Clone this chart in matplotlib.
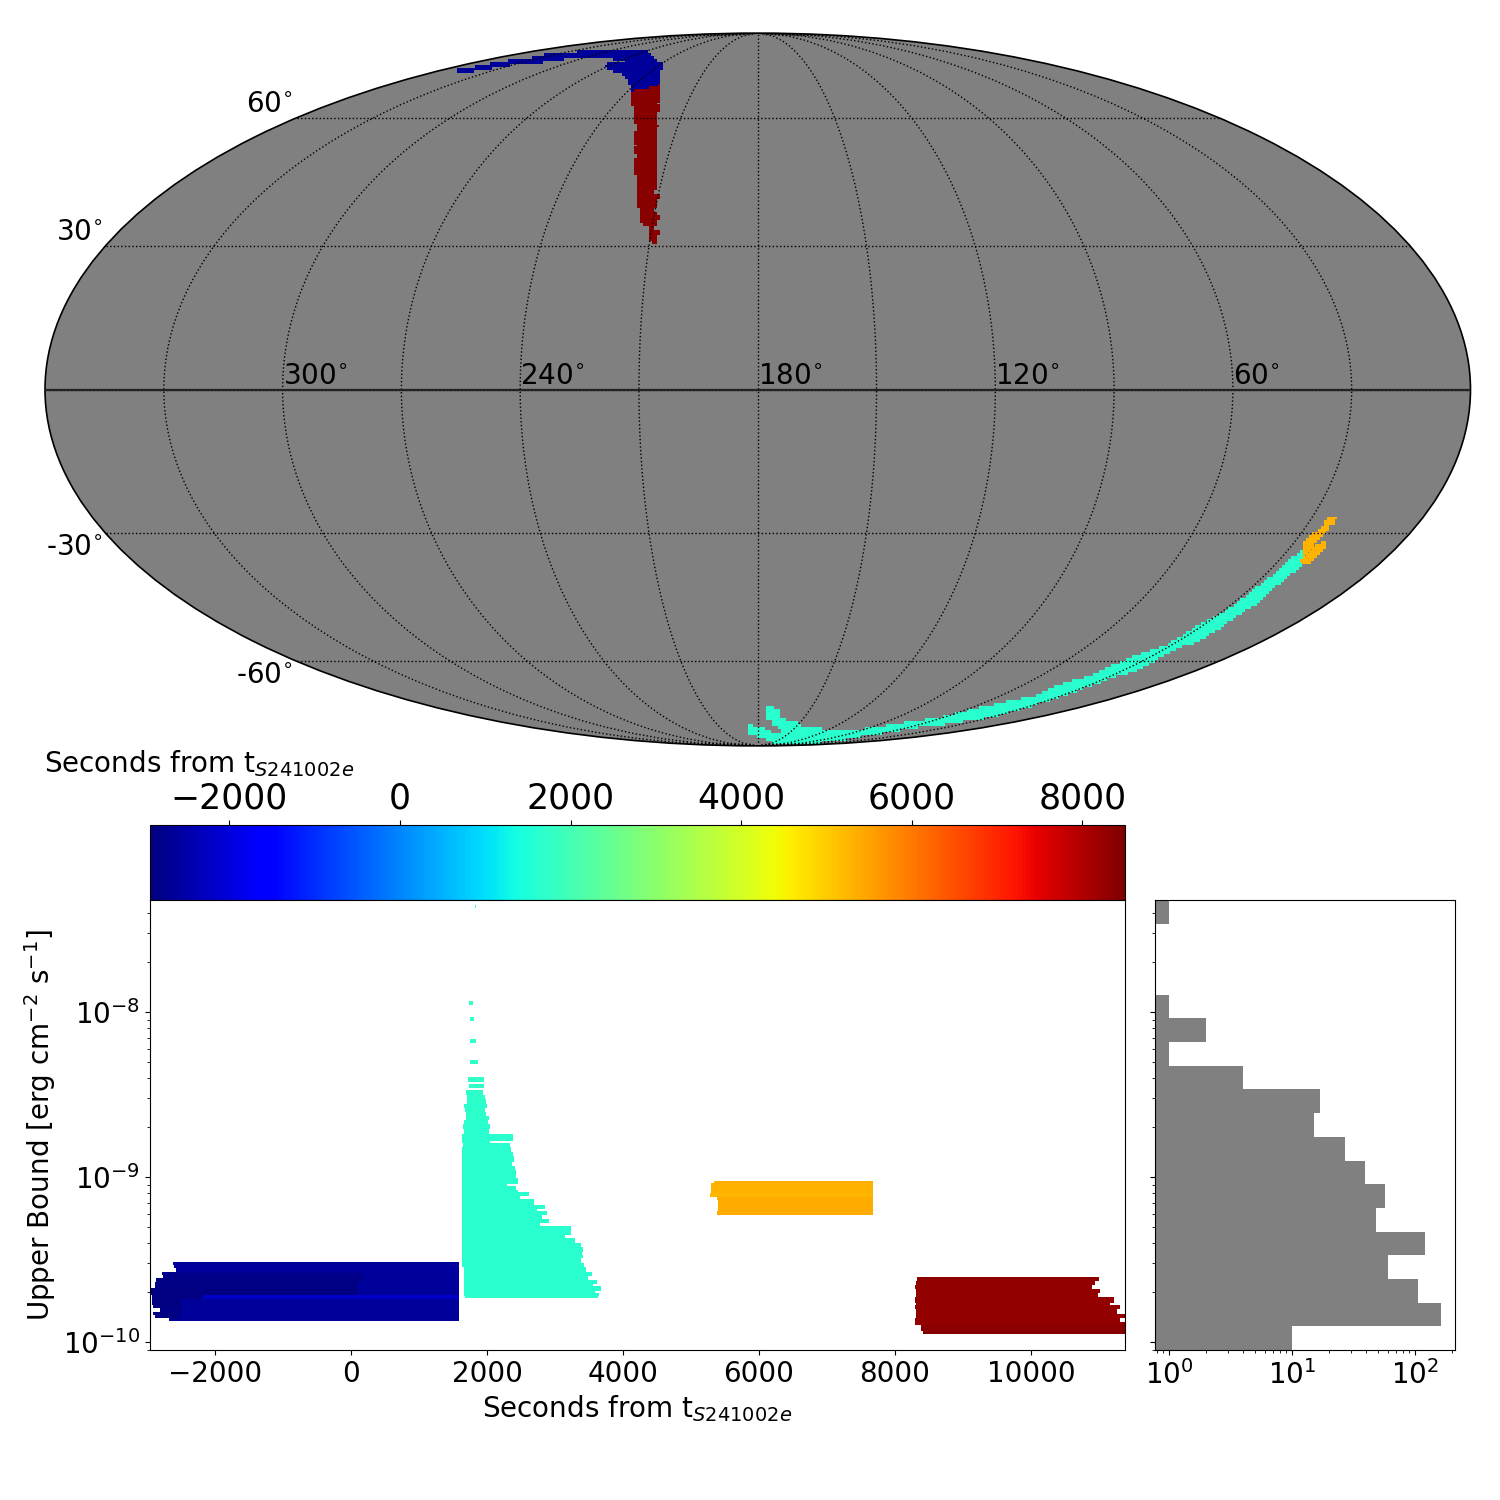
import numpy as np
import matplotlib
matplotlib.use('Agg')
import matplotlib.pyplot as plt
from matplotlib.cm import ScalarMappable
from matplotlib.colors import Normalize
from matplotlib.patches import Polygon
from matplotlib.ticker import NullFormatter, FixedLocator

# ---------- colour scale / axis ranges ----------
T_MIN, T_MAX = -2930, 8500
X_LIM = (-2956, 11382)
LOG_UL_LIM = (-10.048, -7.321)
HIST_X_LIM = (0.77, 211)

# ---------- sky regions (longitude east of plot centre, latitude; degrees) ----------
sky_blue_t = -2650
sky_blue_lon = [-172.8,-169.6,-164.8,-166.4,-161.9,-157.2,-153.6,-156.3,-147.2,-136.3,-117.1,-88.5,-71.1,-58.5,-54.4,-51.0,-46.8,-57.8,-63.9,-73.4,-82.8,-91.7,-95.4,-85.8,-86.6,-106.4,-122.1,-132.8,-137.3,-144.4,-149.7,-157.1,-159.6,-162.3,-167.4]
sky_blue_lat = [74.1,74.7,75.2,76.1,77.0,77.2,78.2,79.4,79.9,80.4,80.7,80.4,77.8,75.5,73.3,70.7,68.2,67.2,70.2,72.8,74.1,75.2,76.3,76.5,77.2,78.4,78.7,78.2,77.2,76.5,76.1,75.5,74.4,73.6,73.3]
sky_red_t = 8400
sky_red_lon = [-47.4,-44.5,-42.7,-43.4,-40.7,-40.9,-38.9,-37.4,-37.8,-35.9,-35.6,-33.5,-33.7,-32.6,-31.8,-31.5,-29.9,-30.6,-30.3,-28.6,-29.4,-29.4,-27.9,-28.5,-28.2,-29.4,-30.5,-30.1,-31.6,-33.2,-34.0,-33.8,-35.7,-36.1,-37.4,-38.1,-39.8,-40.5,-42.3,-41.9,-43.9,-45.2,-48.1,-52.6,-55.5,-57.8]
sky_red_lat = [69.2,66.2,65.3,63.9,62.5,61.2,58.5,58.1,56.8,54.3,53.0,49.8,49.0,46.2,45.4,41.6,41.2,40.0,37.1,36.3,35.6,33.4,33.0,32.3,30.8,30.8,33.0,34.1,34.5,35.4,36.7,37.4,39.7,41.6,43.9,45.4,48.2,50.6,52.6,53.0,55.1,57.7,60.3,63.9,65.3,67.2]
sky_cyan_t = 1660
sky_cyan_lon = [4.3,8.3,8.6,13.3,14.6,17.9,19.3,22.8,27.4,34.2,53.3,83.3,99.2,110.5,120.6,125.5,132.4,138.1,137.5,141.3,142.2,144.3,148.9,148.7,148.9,150.9,151.8,151.6,152.8,152.9,154.3,158.0,157.3,156.2,157.5,156.0,157.0,156.9,153.2,155.3,151.2,150.6,150.0,149.2,149.3,141.2,135.6,124.3,118.8,110.1,114.3,100.5,61.5,46.6,17.3,11.4,0.6,-0.5,-8.0,-6.5,-4.3,0.4,8.4,12.8,17.9,20.3,25.0,17.6,12.3,10.7,4.9]
sky_cyan_lat = [-73.8,-73.8,-74.8,-74.8,-76.9,-76.9,-78.3,-78.3,-79.0,-80.6,-81.4,-82.2,-80.2,-78.7,-76.9,-74.2,-71.9,-70.1,-66.5,-64.5,-62.3,-58.6,-56.3,-53.8,-50.8,-48.4,-45.3,-42.1,-39.8,-36.2,-33.8,-36.9,-39.6,-42.1,-46.0,-47.7,-50.8,-55.0,-56.3,-62.3,-64.5,-67.1,-70.1,-73.2,-76.5,-77.6,-79.4,-80.2,-82.2,-83.9,-86.4,-87.5,-87.5,-88.2,-85.9,-84.9,-84.9,-82.6,-82.6,-79.8,-80.2,-81.0,-81.8,-83.5,-83.5,-82.6,-82.2,-80.2,-79.4,-76.9,-76.9]
sky_orange_t = 5300
sky_orange1_lon = [152.9,154.3,154.6,155.7,156.5,156.8,156.1,156.5,155.8,156.0,155.8]
sky_orange1_lat = [-32.5,-29.2,-27.1,-26.5,-26.5,-27.7,-28.8,-30.3,-31.8,-33.6,-35.1]
sky_orange2_lon = [156.9,156.8,157.1,158.3,159.7,159.0,159.8,158.9]
sky_orange2_lat = [-36.2,-34.2,-32.5,-32.1,-33.4,-34.7,-36.2,-36.9]

sky_lon_labels = [300, 240, 180, 120, 60]
sky_lat_labels = [60, 30, -30, -60]

# ---------- upper-limit rows: log10(UL) edges, exposure start and stop (s) ----------
blue_edges = [-9.513,-9.533,-9.554,-9.574,-9.594,-9.614,-9.634,-9.655,-9.675,-9.695,-9.715,-9.739,-9.756,-9.776,-9.796,-9.816,-9.836,-9.857,-9.873]
blue_start = [-2618,-2603,-2574,-2650,-2650,-2650,-2650,-2650,-2650,-2650,-2171,-2650,-2650,-2650,-2650,-2650,-2650,-2676]
blue_stop = [1588]*18
blue2_row = [3,4,5,6,7,8,9,10,11,12,13,14,15,16]
blue2_start = [-2779,-2765,-2868,-2882,-2882,-2941,-2956,-2926,-2926,-2926,-2907,-2809,-2907,-2882]
blue2_stop = [176,176,176,84,84,84,84,-2171,-2500,-2500,-2500,-2500,-2500,-2500]

cyan_edges = [-8.473,-8.503,-8.527,-8.558,-8.582,-8.606,-8.630,-8.655,-8.679,-8.709,-8.739,-8.780,-8.792,-8.816,-8.848,-8.873,-8.909,-8.933,-8.958,-9.006,-9.042,-9.055,-9.079,-9.091,-9.115,-9.135,-9.168,-9.192,-9.204,-9.232,-9.253,-9.277,-9.297,-9.352,-9.372,-9.402,-9.422,-9.453,-9.473,-9.493,-9.523,-9.543,-9.574,-9.600,-9.624,-9.648,-9.661,-9.689,-9.701,-9.721,-9.733]
cyan_start = [1691,1706,1706,1662,1676,1691,1691,1662,1647,1662]+[1632,1632,1647]+[1632]*28+[1662]*8+[1676]
cyan_stop = [1941,1971,1985,2000,1971,1985,2029,2015,2044,2029,2382,2044,2338,2353,2382,2397,2368,2412,2426,2456,2289,2426,2456,2618,2485,2691,2853,2735,2882,2809,2912,2779,3235,3147,3294,3382,3412,3397,3412,3382,3426,3456,3544,3485,3618,3559,3676,3588,3647,3632]
cyan_iso_top = [-7.351,-7.933,-8.030,-8.164,-8.291,-8.396,-8.436]
cyan_iso_bot = [-7.371,-7.958,-8.055,-8.188,-8.315,-8.424,-8.461]
cyan_iso_start = [1824,1735,1750,1750,1750,1721,1735]
cyan_iso_stop = [1838,1794,1809,1838,1868,1956,1956]

orange_edges = [-9.024,-9.038,-9.095,-9.119,-9.139,-9.204,-9.230]
orange_start = [5338,5294,5279,5382,5402,5382]
orange_stop = [7676]*6

red_edges = [-9.604,-9.632,-9.655,-9.681,-9.705,-9.725,-9.762,-9.774,-9.798,-9.830,-9.855,-9.879,-9.895,-9.931,-9.952]
red_start = [8324,8309,8294,8309,8309,8294,8309,8294,8309,8309,8294,8294,8382,8412]
red_stop = [11000,10941,10897,11015,10985,11221,11162,11309,11265,11382,11309,11382,11382,11382]

# ---------- histogram (counts per logarithmic UL bin, lowest bin first) ----------
hist_counts = [10,162,105,60,120,48,57,39,27,15,17,4,1,2,1,0,0,0,1]

FS = 20
CB_FS = 25
LABEL_X = r'Seconds from t$_{S241002e}$'
LABEL_Y = r'Upper Bound [erg cm$^{-2}$ s$^{-1}$]'

W = H = 1500
fig = plt.figure(figsize=(15, 15), dpi=100)
def box(l, t, r, b):
    return [l/W, 1-b/H, (r-l)/W, (b-t)/H]

norm = Normalize(T_MIN, T_MAX)
cmap = plt.get_cmap('jet')

# ---------- sky map ----------
sky = fig.add_axes(box(45, 33, 1470.5, 746), projection='mollweide')
sky.set_facecolor('gray')
CELL = 0.0119   # map pixel size in projected Mollweide units

def pixel_outline(xy, step=CELL):
    """Follow an outline on the map-pixel lattice, as a HEALPix-style raster edge."""
    closed = np.vstack([xy, xy[:1]])
    pieces = []
    for a, b in zip(closed[:-1], closed[1:]):
        n = max(1, int(np.hypot(*(b-a))/step*2))
        pieces.append(a + (b-a)*np.linspace(0, 1, n, endpoint=False)[:, None])
    snapped = np.round(np.vstack(pieces)/step)*step
    out = []
    for p in snapped:
        if out and p[0] != out[-1][0] and p[1] != out[-1][1]:
            out.append([p[0], out[-1][1]])
        out.append(list(p))
    return np.array(out)

for lon, lat, t in [(sky_blue_lon, sky_blue_lat, sky_blue_t),
                    (sky_red_lon, sky_red_lat, sky_red_t),
                    (sky_cyan_lon, sky_cyan_lat, sky_cyan_t),
                    (sky_orange1_lon, sky_orange1_lat, sky_orange_t),
                    (sky_orange2_lon, sky_orange2_lat, sky_orange_t)]:
    lonlat = np.column_stack([np.radians(lon), np.radians(lat)])
    projected = sky.transProjection.transform(lonlat)
    sky.add_artist(Polygon(pixel_outline(projected), closed=True, facecolor=cmap(norm(t)), edgecolor=cmap(norm(t)),
                           lw=1.3, antialiased=False, zorder=1, transform=sky.transAffine + sky.transAxes))
sky.set_longitude_grid(30)
sky.set_latitude_grid(30)
sky.set_longitude_grid_ends(90)
sky.xaxis.set_ticklabels([])
sky.yaxis.set_ticklabels([])
sky.grid(True, color='black', linestyle=':', linewidth=1.0)
sky.set_axisbelow(False)
sky.spines['geo'].set_linewidth(1.2)
sky.plot(np.radians([-180, 180]), [0, 0], color='#222222', lw=1.6, zorder=3)
for ra in sky_lon_labels:
    sky.annotate(f'{ra}$^{{\\circ}}$', xy=(np.radians(180-ra), 0),
                 xytext=(0, 0), textcoords='offset points', ha='left', va='bottom', fontsize=FS, zorder=5)
for dec in sky_lat_labels:
    sky.annotate(f'{dec}$^{{\\circ}}$', xy=(-np.pi, np.radians(dec)), xytext=(-2.5, 0), textcoords='offset points',
                 ha='right', va='bottom' if dec > 0 else 'top', fontsize=FS, annotation_clip=False)

# ---------- colour bar ----------
cax = fig.add_axes(box(150, 825, 1125, 900))
cb = fig.colorbar(ScalarMappable(norm=norm, cmap=cmap), cax=cax, orientation='horizontal',
                  ticklocation='top', ticks=[-2000, 0, 2000, 4000, 6000, 8000])
cb.ax.tick_params(labelsize=CB_FS)
fig.text(44.5/W, 1-772/H, LABEL_X, fontsize=FS, ha='left', va='baseline')

# ---------- upper limits vs time ----------
ax = fig.add_axes(box(150, 900, 1125, 1350))
def draw_rows(top, bot, start, stop):
    top = 10.0**np.asarray(top); bot = 10.0**np.asarray(bot)
    start = np.asarray(start, float); stop = np.asarray(stop, float)
    ax.barh(bot, stop-start, height=top-bot, left=start, align='edge', linewidth=0,
            color=cmap(norm(start)), antialiased=False)
draw_rows(blue_edges[:-1], blue_edges[1:], blue_start, blue_stop)
draw_rows([blue_edges[i] for i in blue2_row], [blue_edges[i+1] for i in blue2_row], blue2_start, blue2_stop)
draw_rows(cyan_edges[:-1], cyan_edges[1:], cyan_start, cyan_stop)
draw_rows(cyan_iso_top, cyan_iso_bot, cyan_iso_start, cyan_iso_stop)
draw_rows(orange_edges[:-1], orange_edges[1:], orange_start, orange_stop)
draw_rows(red_edges[:-1], red_edges[1:], red_start, red_stop)
ax.set_yscale('log')
ax.yaxis.set_major_locator(FixedLocator([1e-10, 1e-9, 1e-8]))
ax.set_xlim(*X_LIM)
ax.set_ylim(10**LOG_UL_LIM[0], 10**LOG_UL_LIM[1])
ax.tick_params(labelsize=FS)
ax.set_xlabel(LABEL_X, fontsize=FS)
ax.set_ylabel(LABEL_Y, fontsize=FS)

# ---------- histogram ----------
hax = fig.add_axes(box(1155, 900, 1455, 1350))
edges = np.logspace(LOG_UL_LIM[0], LOG_UL_LIM[1], len(hist_counts)+1)
counts = np.asarray(hist_counts, float)
keep = counts > 0
hax.barh(edges[:-1][keep], counts[keep]-0.1, height=np.diff(edges)[keep], left=0.1, align='edge',
         color='gray', linewidth=0, antialiased=False)
hax.set_xscale('log')
hax.set_yscale('log')
hax.yaxis.set_major_locator(FixedLocator([1e-10, 1e-9, 1e-8]))
hax.set_xlim(*HIST_X_LIM)
hax.set_ylim(edges[0], edges[-1])
hax.tick_params(labelsize=FS)
hax.yaxis.set_major_formatter(NullFormatter())
hax.yaxis.set_minor_formatter(NullFormatter())

fig.savefig('out.png', dpi=100)
